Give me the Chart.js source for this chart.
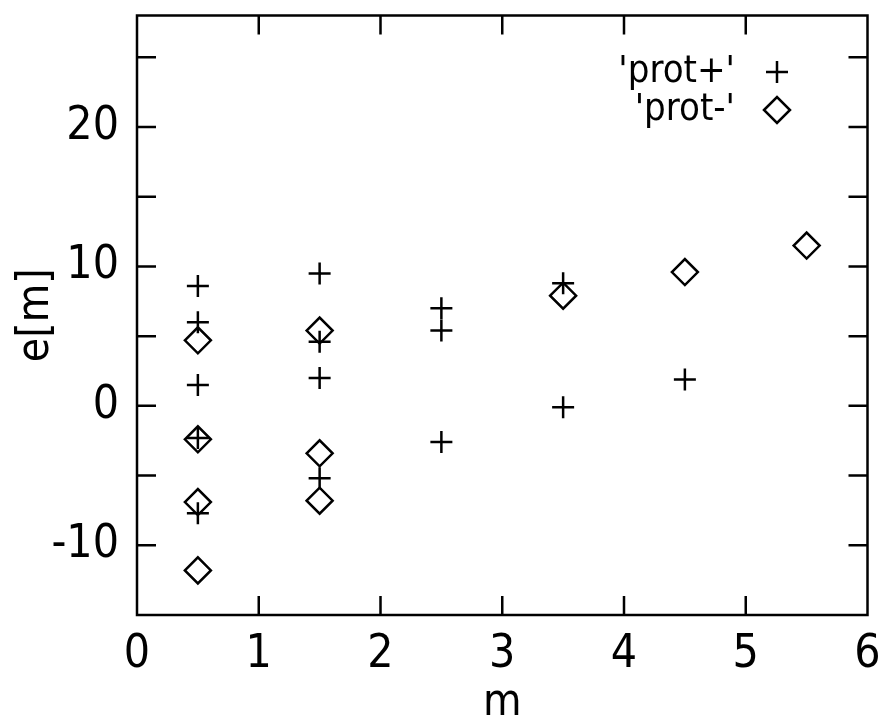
<!DOCTYPE html>
<html>
<head>
<meta charset="utf-8">
<title>e[m] vs m</title>
<script src="https://cdn.jsdelivr.net/npm/chart.js@4.4.1/dist/chart.umd.min.js"></script>
<style>
  html, body { margin: 0; padding: 0; background: #fff; }
  #wrap { width: 883px; height: 720px; }
</style>
</head>
<body>
<div id="wrap"><canvas id="chartEm"></canvas></div>
<script>
// prot+ series (crosses)
const plusM = [0.5, 0.5, 0.5, 0.5, 0.5, 1.5, 1.5, 1.5, 1.5, 2.5, 2.5, 2.5, 3.5, 3.5, 4.5];
const plusE = [8.6, 6.0, 1.5, -2.3, -7.7, 9.5, 4.6, 2.0, -5.2, 7.0, 5.4, -2.6, 8.8, -0.1, 1.9];

// prot- series (diamonds)
const minusM = [0.5, 0.5, 0.5, 0.5, 1.5, 1.5, 1.5, 3.5, 4.5, 5.5];
const minusE = [4.7, -2.4, -6.9, -11.8, 5.4, -3.4, -6.8, 7.9, 9.6, 11.5];

const seriesNames = ["'prot+'", "'prot-'"];

// labelled ticks and inner tick marks
const xTickLabels = [0, 1, 2, 3, 4, 5, 6];
const yTickLabels = [-10, 0, 10, 20];
const xMarks = [1, 2, 3, 4, 5];
const yMarks = [-10, -5, 0, 5, 10, 15, 20, 25];

const FONT = "'Liberation Sans Narrow', 'DejaVu Sans Condensed', sans-serif";

function toPoints(xs, ys) {
    let pts = [];
    for (let i = 0; i < xs.length; i++) {
        pts.push({ x: xs[i], y: ys[i] });
    }
    return pts;
}

// white page, frame, inward ticks and key inside the plot
const framePlugin = {
    id: 'framePlugin',
    beforeDraw: function (chart) {
        const { ctx } = chart;
        ctx.save();
        ctx.fillStyle = '#fff';
        ctx.fillRect(0, 0, chart.width, chart.height);
        ctx.restore();
    },
    afterDraw: function (chart) {
        const { ctx, chartArea: a, scales: { x, y } } = chart;
        const tick = 19;
        ctx.save();
        ctx.strokeStyle = '#000';
        ctx.lineWidth = 2.5;
        ctx.strokeRect(a.left, a.top, a.right - a.left, a.bottom - a.top);

        ctx.beginPath();
        for (let v of xMarks) {
            let px = x.getPixelForValue(v);
            ctx.moveTo(px, a.bottom);
            ctx.lineTo(px, a.bottom - tick);
            ctx.moveTo(px, a.top);
            ctx.lineTo(px, a.top + tick);
        }
        for (let v of yMarks) {
            let py = y.getPixelForValue(v);
            ctx.moveTo(a.left, py);
            ctx.lineTo(a.left + tick, py);
            ctx.moveTo(a.right, py);
            ctx.lineTo(a.right - tick, py);
        }
        ctx.stroke();

        // key: title then symbol
        ctx.font = '38px ' + FONT;
        ctx.textAlign = 'right';
        ctx.textBaseline = 'middle';
        const keyTextX = 735;
        const keySymX = 777;
        const rows = [72, 110];
        chart.data.datasets.forEach((ds, i) => {
            ctx.fillStyle = '#000';
            ctx.fillText(ds.label, keyTextX, rows[i]);
            ctx.fillStyle = 'rgba(0,0,0,0)';
            ctx.strokeStyle = '#000';
            ctx.lineWidth = ds.borderWidth;
            Chart.helpers.drawPoint(ctx, {
                pointStyle: ds.pointStyle,
                radius: ds.pointRadius,
                rotation: 0,
                borderWidth: ds.borderWidth
            }, keySymX, rows[i]);
        });
        ctx.restore();
    }
};

let ctx_em = document.getElementById('chartEm').getContext('2d');

let emChart = new Chart(ctx_em, {
    type: 'scatter',
    data: {
        datasets: [
            {
                label: seriesNames[0],
                data: toPoints(plusM, plusE),
                pointStyle: 'cross',
                pointRadius: 11,
                pointHoverRadius: 11,
                borderWidth: 2.5,
                borderColor: '#000',
                backgroundColor: 'rgba(0,0,0,0)'
            },
            {
                label: seriesNames[1],
                data: toPoints(minusM, minusE),
                pointStyle: 'rectRot',
                pointRadius: 13,
                pointHoverRadius: 13,
                borderWidth: 2.5,
                borderColor: '#000',
                backgroundColor: 'rgba(0,0,0,0)'
            }
        ]
    },
    plugins: [framePlugin],
    options: {
        responsive: true,
        maintainAspectRatio: false,
        animation: false,
        layout: {
            padding: { top: 13, right: 14, left: 0, bottom: 0 }
        },
        plugins: {
            legend: { display: false },
            tooltip: { enabled: false }
        },
        scales: {
            x: {
                type: 'linear',
                min: 0,
                max: 6,
                afterBuildTicks: function (s) {
                    s.ticks = xTickLabels.map(v => ({ value: v }));
                },
                afterFit: function (s) {
                    s.height = 105;
                    s.paddingLeft = 0;
                    s.paddingRight = 0;
                },
                grid: { display: false, drawTicks: false },
                border: { display: false },
                ticks: {
                    color: '#000',
                    padding: 12,
                    maxRotation: 0,
                    font: { family: FONT, size: 46 }
                },
                title: {
                    display: true,
                    text: 'm',
                    color: '#000',
                    padding: { top: 0, bottom: -10 },
                    font: { family: FONT, size: 44 }
                }
            },
            y: {
                type: 'linear',
                min: -15,
                max: 28,
                afterBuildTicks: function (s) {
                    s.ticks = yTickLabels.map(v => ({ value: v }));
                },
                afterFit: function (s) {
                    s.width = 137;
                    s.paddingTop = 0;
                    s.paddingBottom = 0;
                },
                grid: { display: false, drawTicks: false },
                border: { display: false },
                ticks: {
                    color: '#000',
                    padding: 18,
                    font: { family: FONT, size: 46 }
                },
                title: {
                    display: true,
                    text: 'e[m]',
                    color: '#000',
                    padding: { top: 10, bottom: 0 },
                    font: { family: FONT, size: 44 }
                }
            }
        }
    }
});
</script>
</body>
</html>
